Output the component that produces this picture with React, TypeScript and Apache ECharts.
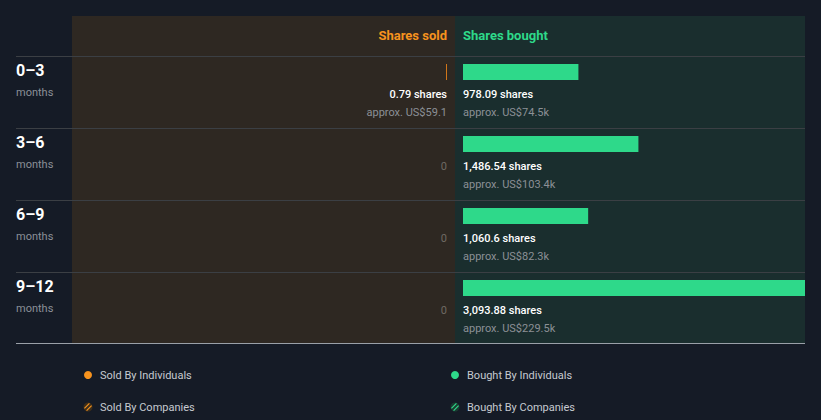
import React, { useEffect, useRef } from "react";
import * as echarts from "echarts";

const periods = ["0–3", "3–6", "6–9", "9–12"];
const periodUnit = "months";
const soldShares = [0.79, 0, 0, 0];
const soldUsd = ["US$59.1", "", "", ""];
const boughtShares = [978.09, 1486.54, 1060.6, 3093.88];
const boughtUsd = ["US$74.5k", "US$103.4k", "US$82.3k", "US$229.5k"];
const legendSold = ["Sold By Individuals", "Sold By Companies"];
const legendBought = ["Bought By Individuals", "Bought By Companies"];

const BG = "#151b26";
const SOLD_BG = "#2e2822";
const BOUGHT_BG = "#1a2e2e";
const ORANGE = "#f7931e";
const GREEN = "#2ed98a";
const FONT = "Roboto, 'Noto Sans', sans-serif";

const fmt = (v: number) => v.toLocaleString("en-US", { maximumFractionDigits: 2 });

export default function App() {
  const ref = useRef<HTMLDivElement>(null);
  useEffect(() => {
    if (!ref.current) return;
    document.body.style.margin = "0";
    const chart = echarts.init(ref.current, undefined, { renderer: "svg" });
    const PX = 0.118; // px per share
    const soldLeft = 72, soldRight = 447;
    const boughtLeft = 463, boughtRight = 805;
    const rowTop = 56, rowH = 72;

    const graphics: any[] = [
      { type: "rect", z: -10, shape: { x: 72, y: 16, width: 383, height: 327 }, style: { fill: SOLD_BG } },
      { type: "rect", z: -10, shape: { x: 455, y: 16, width: 350, height: 327 }, style: { fill: BOUGHT_BG } },
      { type: "text", x: 447, y: 35, style: { text: "Shares sold", fill: ORANGE, font: `bold 13px ${FONT}`, textAlign: "right", textVerticalAlign: "middle" } },
      { type: "text", x: 463, y: 35, style: { text: "Shares bought", fill: GREEN, font: `bold 13px ${FONT}`, textAlign: "left", textVerticalAlign: "middle" } },
    ];
    periods.forEach((p, i) => {
      const y0 = rowTop + i * rowH;
      graphics.push({ type: "line", shape: { x1: 16, y1: y0 + 0.5, x2: 805, y2: y0 + 0.5 }, style: { stroke: "#3b3f44", lineWidth: 1 } });
      graphics.push({ type: "text", x: 16, y: y0 + 14, style: { text: p, fill: "#ffffff", font: `bold 16px ${FONT}`, textAlign: "left", textVerticalAlign: "middle" } });
      graphics.push({ type: "text", x: 16, y: y0 + 36, style: { text: periodUnit, fill: "#8b9098", font: `11px ${FONT}`, textAlign: "left", textVerticalAlign: "middle" } });
    });
    graphics.push({ type: "line", shape: { x1: 16, y1: 343.5, x2: 805, y2: 343.5 }, style: { stroke: "#9aa0a8", lineWidth: 1 } });

    const legendY = [375, 407];
    const hatch = (cx: number, cy: number, color: string, dark: string) => ({
      type: "group",
      children: [
        { type: "circle", shape: { cx, cy, r: 4.5 }, style: { fill: dark } },
        { type: "line", shape: { x1: cx - 3.6, y1: cy + 1.4, x2: cx + 1.4, y2: cy - 3.6 }, style: { stroke: color, lineWidth: 1.2 } },
        { type: "line", shape: { x1: cx - 1.4, y1: cy + 3.6, x2: cx + 3.6, y2: cy - 1.4 }, style: { stroke: color, lineWidth: 1.2 } },
      ],
    });
    legendSold.forEach((t, i) => {
      if (i === 0) graphics.push({ type: "circle", shape: { cx: 88, cy: legendY[i], r: 4 }, style: { fill: ORANGE } });
      else graphics.push(hatch(88, legendY[i], ORANGE, "#3d2e1a"));
      graphics.push({ type: "text", x: 100, y: legendY[i], style: { text: t, fill: "#c6cad0", font: `11px ${FONT}`, textAlign: "left", textVerticalAlign: "middle" } });
    });
    legendBought.forEach((t, i) => {
      if (i === 0) graphics.push({ type: "circle", shape: { cx: 455, cy: legendY[i], r: 4 }, style: { fill: GREEN } });
      else graphics.push(hatch(455, legendY[i], GREEN, "#1a3a30"));
      graphics.push({ type: "text", x: 467, y: legendY[i], style: { text: t, fill: "#c6cad0", font: `11px ${FONT}`, textAlign: "left", textVerticalAlign: "middle" } });
    });

    const labelSeries = (side: "sold" | "bought", axisIndex: number) => ({
      type: "custom",
      xAxisIndex: axisIndex,
      yAxisIndex: axisIndex,
      silent: true,
      data: periods.map((_, i) => [0, i]),
      renderItem: (params: any, api: any) => {
        const i = api.value(1);
        const pt = api.coord([0, i]);
        const shares = side === "sold" ? soldShares[i] : boughtShares[i];
        const usd = side === "sold" ? soldUsd[i] : boughtUsd[i];
        const align = side === "sold" ? "right" : "left";
        const children: any[] = [];
        if (shares === 0) {
          children.push({ type: "text", x: pt[0], y: pt[1] + 22, style: { text: "0", fill: "#6e6a64", font: `11px ${FONT}`, textAlign: align, textVerticalAlign: "middle" } });
        } else {
          children.push({ type: "text", x: pt[0], y: pt[1] + 22, style: { text: `${fmt(shares)} shares`, fill: "#ffffff", font: `500 11px ${FONT}`, textAlign: align, textVerticalAlign: "middle" } });
          children.push({ type: "text", x: pt[0], y: pt[1] + 40, style: { text: `approx. ${usd}`, fill: "#8c9096", font: `11px ${FONT}`, textAlign: align, textVerticalAlign: "middle" } });
        }
        return { type: "group", children };
      },
    });

    chart.setOption({
      animation: false,
      backgroundColor: BG,
      graphic: graphics,
      grid: [
        { left: soldLeft, width: soldRight - soldLeft, top: 36, height: 288 },
        { left: boughtLeft, width: boughtRight - boughtLeft, top: 36, height: 288 },
      ],
      xAxis: [
        { type: "value", gridIndex: 0, inverse: true, min: 0, max: (soldRight - soldLeft) / PX, show: false },
        { type: "value", gridIndex: 1, min: 0, max: (boughtRight - boughtLeft) / PX, show: false },
      ],
      yAxis: [
        { type: "category", gridIndex: 0, data: periods, inverse: true, show: false },
        { type: "category", gridIndex: 1, data: periods, inverse: true, show: false },
      ],
      series: [
        {
          type: "bar", xAxisIndex: 0, yAxisIndex: 0, barWidth: 16, barMinHeight: 1,
          data: soldShares.map((v) => (v === 0 ? "-" : v)),
          itemStyle: { color: "#d0761a" }, silent: true,
        },
        {
          type: "bar", xAxisIndex: 1, yAxisIndex: 1, barWidth: 16, clip: true,
          data: boughtShares, itemStyle: { color: GREEN }, silent: true,
        },
        labelSeries("sold", 0),
        labelSeries("bought", 1),
      ],
    });
    return () => chart.dispose();
  }, []);
  return <div ref={ref} style={{ position: "fixed", left: 0, top: 0, width: 821, height: 420 }} />;
}
